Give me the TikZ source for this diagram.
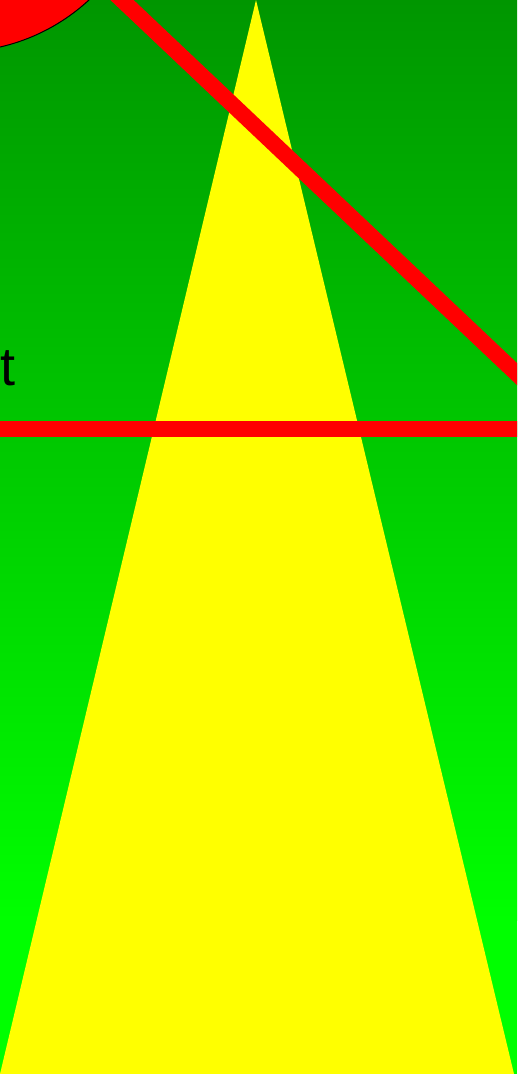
\documentclass[tikz,border=0pt]{standalone}
\usepackage{fontspec}
\setmainfont{Liberation Sans}
\definecolor{gtop}{RGB}{0,150,0}
\definecolor{gbot}{RGB}{0,255,0}
\definecolor{pred}{RGB}{255,0,0}
\definecolor{pyel}{RGB}{255,255,0}
\tikzset{redbar/.style={draw=pred, line width=16pt}}
\begin{document}
\begin{tikzpicture}[x=1pt,y=-1pt]
\useasboundingbox (0,0) rectangle (517,1074);
\clip (0,0) rectangle (517,1074);
\shade[top color=gtop, bottom color=gbot] (0,0) rectangle (517,920);
\fill[gbot] (0,919.5) rectangle (517,1074);
\fill[pyel] (256,0) -- (514,1074) -- (0,1074) -- cycle;
\draw[fill=pred, draw=black, line width=1pt] (-44,-144) circle[radius=196pt];
\draw[redbar] (82.5,-37.4) -- (556.5,411.4);
\draw[redbar] (-10,429) -- (527,429);
\node[anchor=base west, inner sep=0pt, font=\fontsize{54}{54}\selectfont] (t) at (0,385) {t};
\end{tikzpicture}
\end{document}
